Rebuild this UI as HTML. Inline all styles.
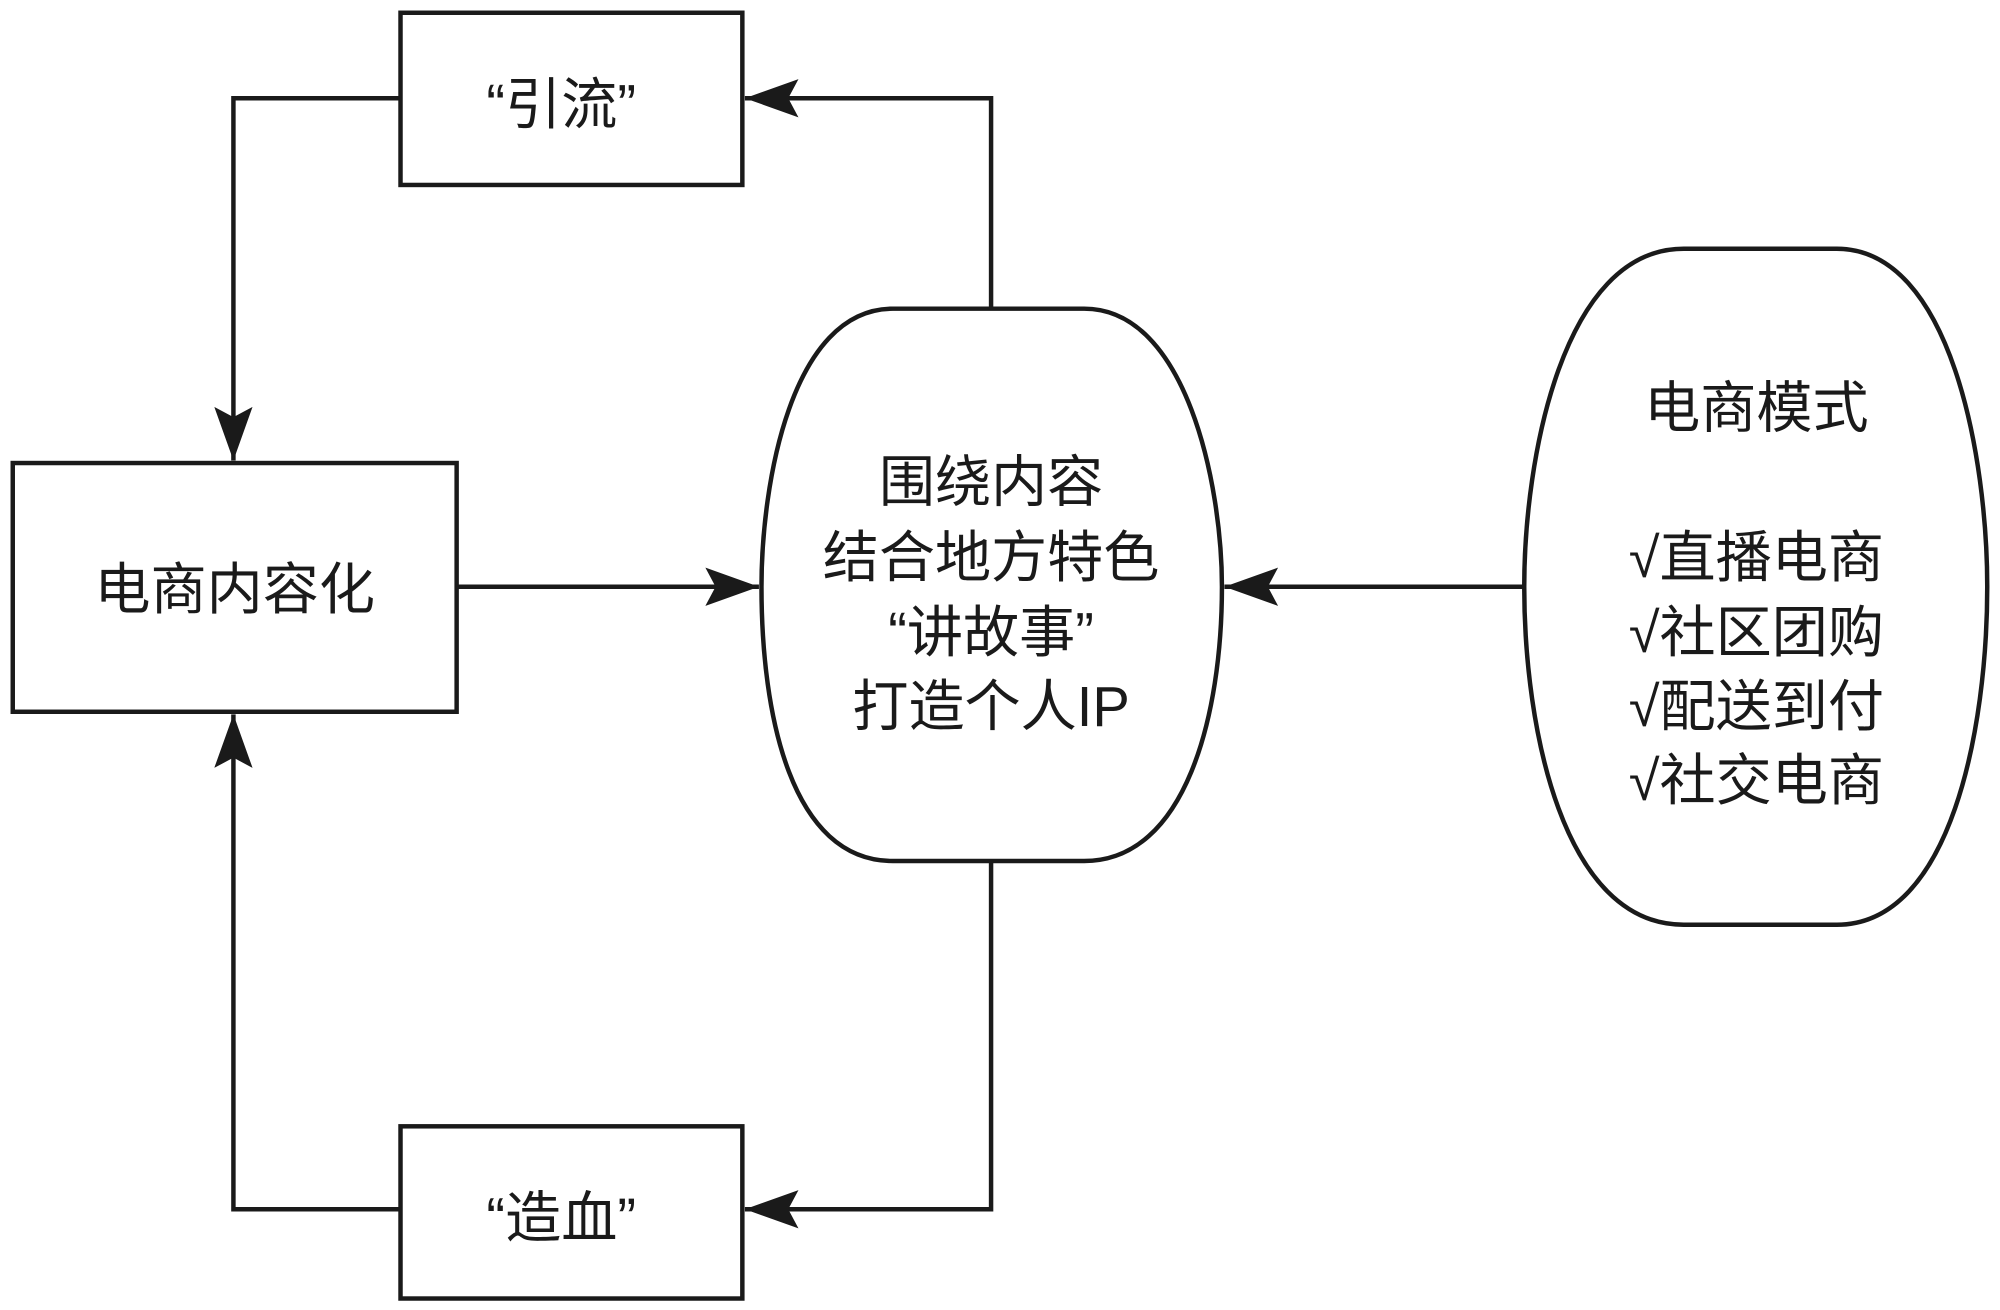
<!DOCTYPE html>
<html><head><meta charset="utf-8"><style>html,body{margin:0;padding:0;background:#fff}svg{display:block}</style></head>
<body>
<svg width="2000" height="1310" viewBox="0 0 1568 1027" preserveAspectRatio="none" xmlns="http://www.w3.org/2000/svg">
<defs><marker id="a" markerWidth="44" markerHeight="30" refX="42" refY="15" orient="auto" markerUnits="userSpaceOnUse"><path d="M0,0 L42,15 L0,30 L8,15 Z" fill="#1a1a1a"/></marker></defs>
<g fill="none" stroke="#1a1a1a" stroke-width="3.5">
<rect x="314" y="10" width="268" height="135" fill="#fff"/>
<rect x="10" y="363" width="348" height="195" fill="#fff"/>
<rect x="314" y="883" width="268" height="135" fill="#fff"/>
<path d="M700,242 H850 C930,242 958,380 958,460 C958,560 930,675 850,675 H700 C620,675 597,560 597,460 C597,380 620,242 700,242 Z" fill="#fff"/>
<path d="M1320,195 H1440 C1530,195 1558,360 1558,460 C1558,570 1530,725 1440,725 H1320 C1225,725 1195,570 1195,460 C1195,360 1225,195 1320,195 Z" fill="#fff"/>
<polyline points="314,77 183,77 183,361" marker-end="url(#a)"/>
<polyline points="777,242 777,77 584,77" marker-end="url(#a)"/>
<polyline points="777,675 777,948 584,948" marker-end="url(#a)"/>
<polyline points="314,948 183,948 183,560" marker-end="url(#a)"/>
<line x1="358" y1="460" x2="595" y2="460" marker-end="url(#a)"/>
<line x1="1195" y1="460" x2="960" y2="460" marker-end="url(#a)"/>
</g>
<g font-family="Liberation Sans, Noto Sans CJK SC, sans-serif" font-size="44" fill="#1a1a1a" text-anchor="middle" dominant-baseline="central">
<text x="440" y="82">“引流”</text>
<text x="184" y="462">电商内容化</text>
<text x="440" y="955">“造血”</text>
<text x="777" y="378">围绕内容</text>
<text x="777" y="437">结合地方特色</text>
<text x="777" y="496">“讲故事”</text>
<text x="777" y="554">打造个人IP</text>
<text x="1377" y="320">电商模式</text>
<text x="1377" y="437">√直播电商</text>
<text x="1377" y="496">√社区团购</text>
<text x="1377" y="554">√配送到付</text>
<text x="1377" y="612">√社交电商</text>
</g>
</svg>
</body></html>
